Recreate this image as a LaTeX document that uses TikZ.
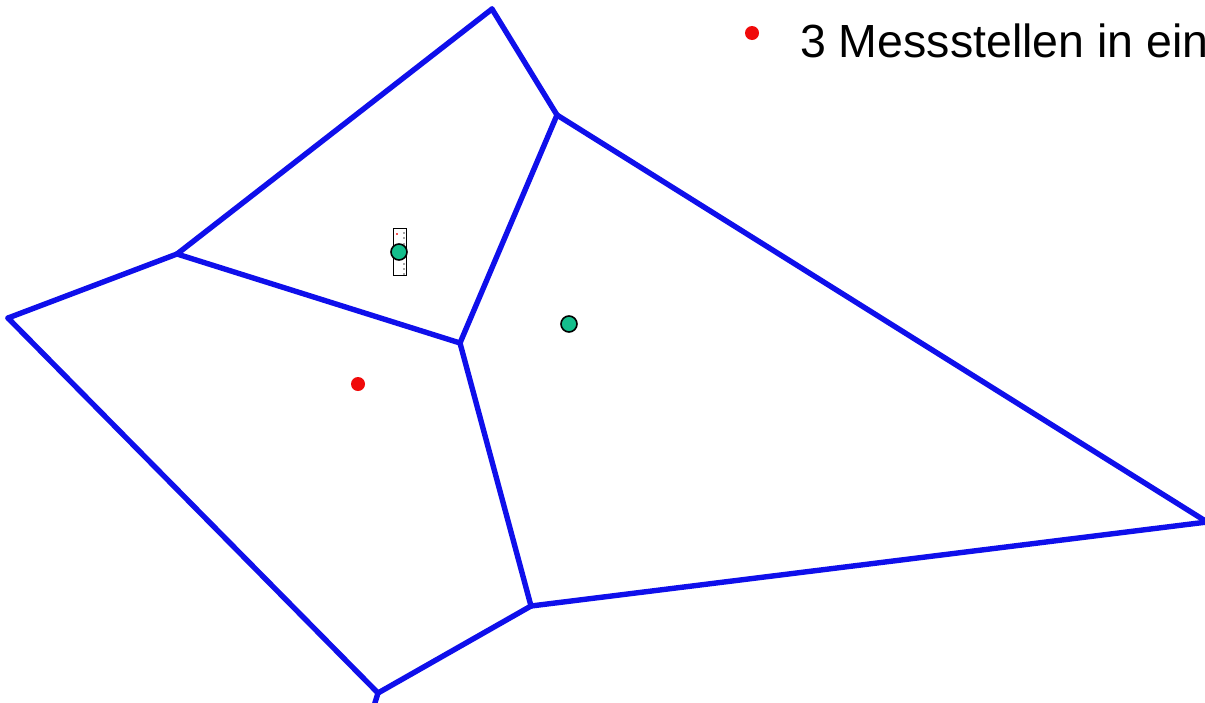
\documentclass[tikz,border=0pt]{standalone}
\usepackage{fontspec}
\setmainfont{Liberation Sans}
\definecolor{edgeblue}{RGB}{15,15,235}
\definecolor{sitegreen}{RGB}{20,190,140}
\definecolor{sitered}{RGB}{240,10,10}
\begin{document}
\begin{tikzpicture}[x=1pt,y=-1pt,
  cell/.style={draw=edgeblue,line width=5.4pt,line cap=round,line join=round},
  greensite/.style={circle,draw=black,line width=1.6pt,fill=sitegreen,inner sep=0pt,minimum size=16pt},
  redsite/.style={circle,fill=sitered,inner sep=0pt,minimum size=14pt},
  label/.style={anchor=base west,font=\fontsize{46.5}{52}\selectfont,inner sep=0pt}]
\useasboundingbox (0,0) rectangle (1205,702);
\clip (0,0) rectangle (1205,702);
\fill[white] (0,0) rectangle (1205,702);
% vertices
\coordinate (A) at (492,9);
\coordinate (B) at (557,115);
\coordinate (C) at (177,254);
\coordinate (D) at (8,318);
\coordinate (E) at (460,343);
\coordinate (F) at (531,606);
\coordinate (G) at (378,693);
\coordinate (H) at (1207,522);
\coordinate (Gend) at (374,706);
% edges
\draw[cell] (A) -- (B);
\draw[cell] (A) -- (C);
\draw[cell] (C) -- (D);
\draw[cell] (D) -- (G);
\draw[cell] (G) -- (F);
\draw[cell] (G) -- (Gend);
\draw[cell] (F) -- (H);
\draw[cell] (B) -- (H);
\draw[cell] (B) -- (E);
\draw[cell] (C) -- (E);
\draw[cell] (E) -- (F);
% small marker box behind first site
\node[draw=black,line width=0.8pt,fill=white,minimum width=13pt,minimum height=47pt,inner sep=0pt] (box) at (400,252) {};
\fill[sitered!70] (396,233) rectangle (398,235);
\foreach \yy in {232,237,243,263,268,273} \fill[gray!70] (403,\yy) rectangle (405,\yy+1.5);
% sites
\node[greensite] (s1) at (399,252) {};
\node[greensite] (s2) at (569,324) {};
\node[redsite] (s3) at (358,384) {};
% legend
\node[redsite] (bullet) at (752,33) {};
\node[label] (legend) at (800,57) {3 Messstellen in einem};
\end{tikzpicture}
\end{document}
